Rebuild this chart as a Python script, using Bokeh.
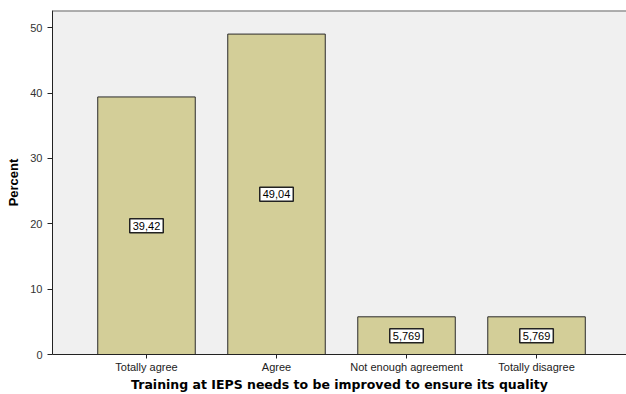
from bokeh.plotting import figure
from bokeh.models import ColumnDataSource, Label, Range1d, Span, FixedTicker
from bokeh.embed import file_html
from bokeh.resources import INLINE

categories = ["Totally agree", "Agree", "Not enough agreement", "Totally disagree"]
percent = [39.42, 49.04, 5.769, 5.769]
value_labels = ["39,42", "49,04", "5,769", "5,769"]
y_ticks = [0, 10, 20, 30, 40, 50]

xpos = [i + 0.5 for i in range(len(categories))]
src = ColumnDataSource(dict(x=xpos, pct=percent))

p = figure(
    width=626, height=394,
    x_range=Range1d(-0.223, 4.192),
    y_range=Range1d(0, 52.65),
    output_backend="svg", toolbar_location=None,
    min_border_left=52, min_border_right=0, min_border_top=10, min_border_bottom=40,
)
p.background_fill_color = "#f0f0f0"
p.border_fill_color = "white"
p.outline_line_color = None
p.grid.visible = False

p.vbar(x="x", top="pct", width=0.75, source=src,
       fill_color="#d3ce98", line_color="#2b2b2b", line_width=1)

for xv, v, t in zip(xpos, percent, value_labels):
    p.add_layout(Label(x=xv, y=v / 2, text=t,
                       text_align="center", text_baseline="middle",
                       text_font="Liberation Sans", text_font_size="11px", text_color="black",
                       background_fill_color="white", border_line_color="#222222",
                       border_line_width=1.5, padding=3))

p.add_layout(Span(location=52.65, dimension="width", line_color="#666666", line_width=2))

p.yaxis.ticker = y_ticks
p.yaxis.axis_label = "Percent"
p.yaxis.axis_label_text_font = "Liberation Sans"
p.yaxis.axis_label_text_font_style = "bold"
p.yaxis.axis_label_text_font_size = "13px"
p.yaxis.axis_label_text_color = "black"
p.yaxis.axis_label_standoff = 6
p.yaxis.major_label_text_font = "Liberation Sans"
p.yaxis.major_label_text_font_size = "11px"
p.yaxis.major_label_text_color = "#333333"
p.yaxis.minor_tick_line_color = None
p.yaxis.major_tick_out = 5
p.yaxis.major_tick_in = 0
p.yaxis.axis_line_color = "#222222"
p.yaxis.major_tick_line_color = "#222222"

p.xaxis.ticker = FixedTicker(ticks=xpos)
p.xaxis.major_label_overrides = {xv: c for xv, c in zip(xpos, categories)}
p.xaxis.minor_tick_line_color = None
p.xaxis.axis_label = "Training at IEPS needs to be improved to ensure its quality"
p.xaxis.axis_label_text_font = "DejaVu Sans"
p.xaxis.axis_label_text_font_style = "bold"
p.xaxis.axis_label_text_font_size = "12.5px"
p.xaxis.axis_label_text_color = "black"
p.xaxis.axis_label_standoff = 1
p.xaxis.major_label_text_font = "Liberation Sans"
p.xaxis.major_label_text_font_size = "11px"
p.xaxis.major_label_text_color = "#222222"
p.xaxis.major_label_standoff = 2
p.xaxis.major_tick_out = 4
p.xaxis.major_tick_in = 0
p.xaxis.axis_line_color = "#222222"
p.xaxis.major_tick_line_color = "#222222"

open("out.html", "w").write(file_html(p, INLINE))
